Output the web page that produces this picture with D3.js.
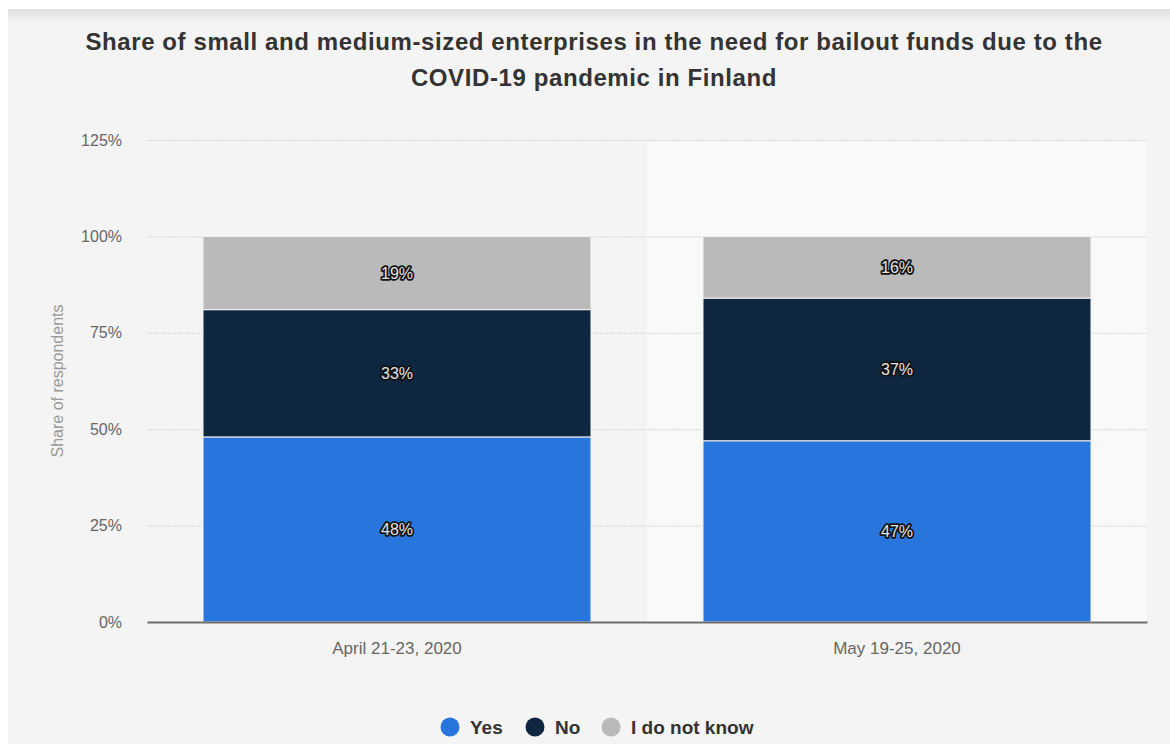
<!DOCTYPE html>
<html>
<head>
<meta charset="utf-8">
<script src="https://cdn.jsdelivr.net/npm/d3@7/dist/d3.min.js"></script>
<style>
  html, body { margin: 0; padding: 0; background: #ffffff; }
  svg { display: block; font-family: "Liberation Sans", Arial, Helvetica, sans-serif; }
</style>
</head>
<body>
<svg id="chart" width="1170" height="744"></svg>
<script>
// Survey periods
const categories = ["April 21-23, 2020", "May 19-25, 2020"];
// Answer groups, stacked bottom to top
const seriesNames = ["Yes", "No", "I do not know"];
// Shares of respondents (%) per period
const yesValues = [48, 47];
const noValues = [33, 37];
const dontKnowValues = [19, 16];
// Y axis ticks (%)
const yTicks = [0, 25, 50, 75, 100, 125];

const colors = ["#2876dd", "#0f2640", "#bababa"];
const titleLines = [
  "Share of small and medium-sized enterprises in the need for bailout funds due to the",
  "COVID-19 pandemic in Finland"
];

const W = 1170, H = 744;
const plot = { left: 147, right: 1147, top: 140, bottom: 622 };

const svg = d3.select("#chart");

// Panel background with a soft shadow at its top edge
const defs = svg.append("defs");
const grad = defs.append("linearGradient").attr("id", "topShade")
  .attr("x1", 0).attr("y1", 0).attr("x2", 0).attr("y2", 1);
grad.append("stop").attr("offset", "0%").attr("stop-color", "#e0e0e0");
grad.append("stop").attr("offset", "100%").attr("stop-color", "#f4f4f4");

svg.append("rect").attr("x", 8).attr("y", 9).attr("width", W - 8).attr("height", H - 9)
  .attr("fill", "#f4f4f4");
svg.append("rect").attr("x", 8).attr("y", 9).attr("width", W - 8).attr("height", 14)
  .attr("fill", "url(#topShade)");

// Title
svg.append("g").selectAll("text").data(titleLines).join("text")
  .attr("x", 594)
  .attr("y", (d, i) => 50 + i * 36)
  .attr("text-anchor", "middle")
  .attr("font-size", 24)
  .attr("letter-spacing", 0.6)
  .attr("font-weight", "bold")
  .attr("fill", "#333")
  .text(d => d);

// Scales
const x = d3.scaleBand().domain(categories)
  .range([plot.left, plot.right])
  .paddingInner(0.224).paddingOuter(0.112);
const y = d3.scaleLinear().domain([0, 125]).range([plot.bottom, plot.top]);

// Highlighted band behind the second period
const hoverCat = categories[1];
const gap = (x.step() - x.bandwidth()) / 2;
svg.append("rect")
  .attr("x", x(hoverCat) - gap)
  .attr("y", y(125))
  .attr("width", x.step())
  .attr("height", y(0) - y(125))
  .attr("fill", "#f9f9f9");

// Gridlines and y tick labels
const yAxis = d3.axisLeft(y).tickValues(yTicks)
  .tickFormat(d => d + "%")
  .tickSize(-(plot.right - plot.left))
  .tickPadding(25);
const gy = svg.append("g").attr("transform", `translate(${plot.left},0)`).call(yAxis);
gy.select(".domain").remove();
gy.selectAll(".tick line")
  .attr("stroke", "#d6d6d6")
  .attr("stroke-dasharray", "2,1");
gy.selectAll(".tick text")
  .attr("font-size", 16)
  .attr("fill", "#666")
  .attr("font-family", "Liberation Sans, Arial, sans-serif");

// Stacked data
const rows = categories.map((c, i) => ({
  category: c,
  "Yes": yesValues[i],
  "No": noValues[i],
  "I do not know": dontKnowValues[i]
}));
const stacked = d3.stack().keys(seriesNames)(rows);

const layers = svg.append("g").selectAll("g").data(stacked).join("g")
  .attr("fill", (d, i) => colors[i]);

layers.selectAll("rect").data(d => d).join("rect")
  .attr("x", d => x(d.data.category))
  .attr("width", x.bandwidth())
  .attr("y", d => y(d[1]))
  .attr("height", d => y(d[0]) - y(d[1]))
  .attr("stroke", "#f4f4f4")
  .attr("stroke-width", 1);

// Value labels with a dark halo
const labelG = svg.append("g");
stacked.forEach(layer => {
  layer.forEach(d => {
    const value = d[1] - d[0];
    labelG.append("text")
      .attr("x", x(d.data.category) + x.bandwidth() / 2)
      .attr("y", (y(d[0]) + y(d[1])) / 2)
      .attr("dy", "0.35em")
      .attr("text-anchor", "middle")
      .attr("font-size", 16)
      .attr("fill", "#e4e4e4")
      .attr("stroke", "#111")
      .attr("stroke-width", 3.5)
      .attr("stroke-linejoin", "round")
      .attr("paint-order", "stroke")
      .text(value + "%");
  });
});

// X axis baseline and labels
const xAxis = d3.axisBottom(x).tickSize(0).tickPadding(20);
const gx = svg.append("g").attr("transform", `translate(0,${plot.bottom})`).call(xAxis);
gx.select(".domain").attr("stroke", "#6e6e6e").attr("stroke-width", 2);
gx.selectAll(".tick text")
  .attr("font-size", 17)
  .attr("fill", "#666")
  .attr("font-family", "Liberation Sans, Arial, sans-serif");

// Y axis title
svg.append("text")
  .attr("transform", `translate(63,381) rotate(-90)`)
  .attr("text-anchor", "middle")
  .attr("font-size", 16)
  .attr("fill", "#999")
  .text("Share of respondents");

// Legend
const legendX = [450, 535, 611];
const legend = svg.append("g").selectAll("g").data(seriesNames).join("g")
  .attr("transform", (d, i) => `translate(${legendX[i]},727)`);
legend.append("circle").attr("r", 9.5).attr("fill", (d, i) => colors[i]);
legend.append("text")
  .attr("x", 20).attr("y", 7)
  .attr("font-size", 19).attr("font-weight", "bold")
  .attr("fill", "#333")
  .text(d => d);
</script>
</body>
</html>
